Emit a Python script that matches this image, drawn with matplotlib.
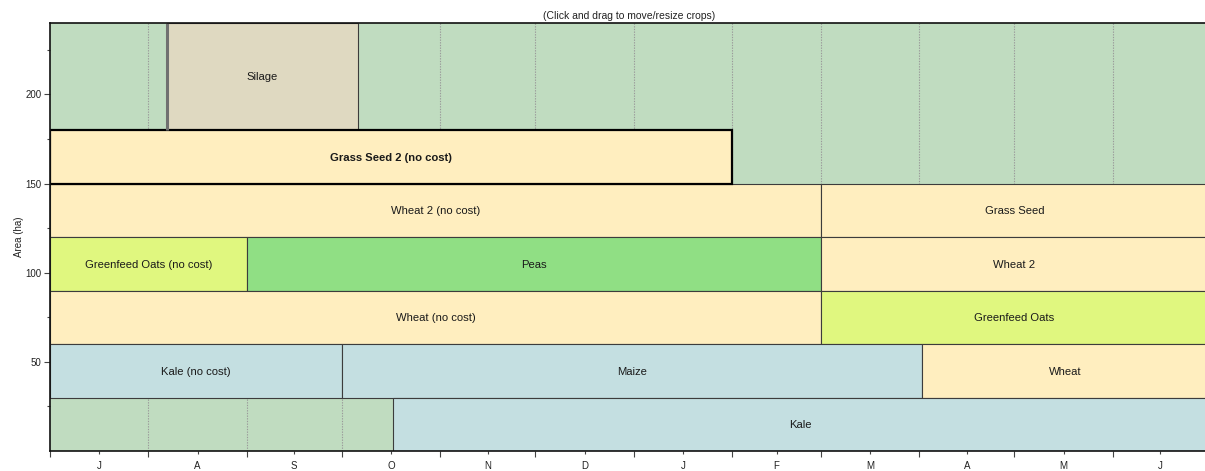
import matplotlib
matplotlib.use("Agg")
import matplotlib.pyplot as plt
from matplotlib.patches import Rectangle
from matplotlib.ticker import FixedLocator, NullFormatter, FixedFormatter
import numpy as np

plt.rcParams['font.family'] = ['Liberation Sans', 'DejaVu Sans']

# Season runs July -> June; x is days since 1 July
month_labels = ['J', 'A', 'S', 'O', 'N', 'D', 'J', 'F', 'M', 'A', 'M', 'J']
month_days = [31, 31, 30, 31, 30, 31, 31, 28, 31, 30, 31, 30]

# Crop blocks: name, start/end day, area band (ha)
crop_names = ['Silage', 'Grass Seed 2 (no cost)', 'Wheat 2 (no cost)', 'Grass Seed',
              'Greenfeed Oats (no cost)', 'Peas', 'Wheat 2', 'Wheat (no cost)',
              'Greenfeed Oats', 'Kale (no cost)', 'Maize', 'Wheat', 'Kale']
crop_start = [37, 0, 0, 243, 0, 62, 243, 0, 243, 0, 92, 275, 108]
crop_end = [97, 215, 243, 365, 62, 243, 365, 243, 365, 92, 275, 365, 365]
crop_low = [180, 150, 120, 120, 90, 90, 90, 60, 60, 30, 30, 30, 0]
crop_high = [240, 180, 150, 150, 120, 120, 120, 90, 90, 60, 60, 60, 30]
selected_crop = 'Grass Seed 2 (no cost)'

y_major = [50, 100, 150, 200]
y_minor = [25, 75, 125, 175, 225]

crop_colors = {
    'Silage': '#dfd9c1',
    'Grass Seed': '#ffeebf',
    'Grass Seed 2': '#ffeebf',
    'Wheat': '#ffeebf',
    'Wheat 2': '#ffeebf',
    'Greenfeed Oats': '#e0f77f',
    'Peas': '#90df84',
    'Kale': '#c4dfe1',
    'Maize': '#c4dfe1',
}
pasture_color = '#c0dcc0'

fig = plt.figure(figsize=(12.05, 4.71), dpi=100)
ax = fig.add_axes([50 / 1205, 1 - 451 / 471, 1158 / 1205, (451 - 23) / 471])

x_total = sum(month_days)
y_top = 240
ax.set_xlim(0, x_total)
ax.set_ylim(0, y_top)

# pasture background with dotted month dividers
ax.add_patch(Rectangle((0, 0), x_total, y_top, facecolor=pasture_color,
                       edgecolor='none', zorder=0))
bounds = np.cumsum([0] + month_days)
for b in bounds[1:-1]:
    ax.axvline(b, color='#9a9a9a', lw=0.8, ls=(0, (1.2, 1.2)), zorder=1)

for name, s, e, lo, hi in zip(crop_names, crop_start, crop_end, crop_low, crop_high):
    key = name.replace(' (no cost)', '')
    color = crop_colors.get(key, '#ffeebf')
    selected = name == selected_crop
    ax.add_patch(Rectangle((s, lo), e - s, hi - lo, facecolor=color,
                           edgecolor='black' if selected else '#3c3c3c',
                           lw=1.6 if selected else 0.8, zorder=3 if selected else 2))
    ax.text((s + e) / 2, (lo + hi) / 2, name, ha='center', va='center_baseline',
            fontsize=8.1, color='#1a1a1a',
            fontweight='bold' if selected else 'normal', zorder=4)

# Silage drag handle on its left edge
ax.plot([crop_start[0], crop_start[0]], [crop_low[0], crop_high[0]],
        color='#707070', lw=2.2, zorder=3, solid_capstyle='butt')

# axes styling
ax.spines['right'].set_visible(False)
for side in ['left', 'bottom', 'top']:
    ax.spines[side].set_color('#111111')
    ax.spines[side].set_linewidth(1.2)
    ax.spines[side].set_zorder(5)

ax.xaxis.set_major_locator(FixedLocator(bounds))
ax.xaxis.set_major_formatter(NullFormatter())
mids = [(bounds[i] + bounds[i + 1]) / 2 for i in range(len(month_days))]
ax.xaxis.set_minor_locator(FixedLocator(mids))
ax.xaxis.set_minor_formatter(FixedFormatter(month_labels))
ax.tick_params(axis='x', which='major', length=4, width=0.8, color='#444444')
ax.tick_params(axis='x', which='minor', length=2, width=0.8, color='#444444',
               labelsize=7, labelcolor='#222222', pad=5)

ax.yaxis.set_major_locator(FixedLocator(y_major))
ax.yaxis.set_minor_locator(FixedLocator(y_minor))
ax.yaxis.set_minor_formatter(NullFormatter())
ax.tick_params(axis='y', which='major', length=4, width=0.8, color='#444444',
               labelsize=7, labelcolor='#222222', pad=2)
ax.tick_params(axis='y', which='minor', length=2, width=0.8, color='#444444')

ax.set_ylabel('Area (ha)', fontsize=7, color='#222222', labelpad=1)
ax.set_title('(Click and drag to move/resize crops)', fontsize=7.5,
             color='#222222', pad=3)

fig.savefig('out.png', dpi=100)
